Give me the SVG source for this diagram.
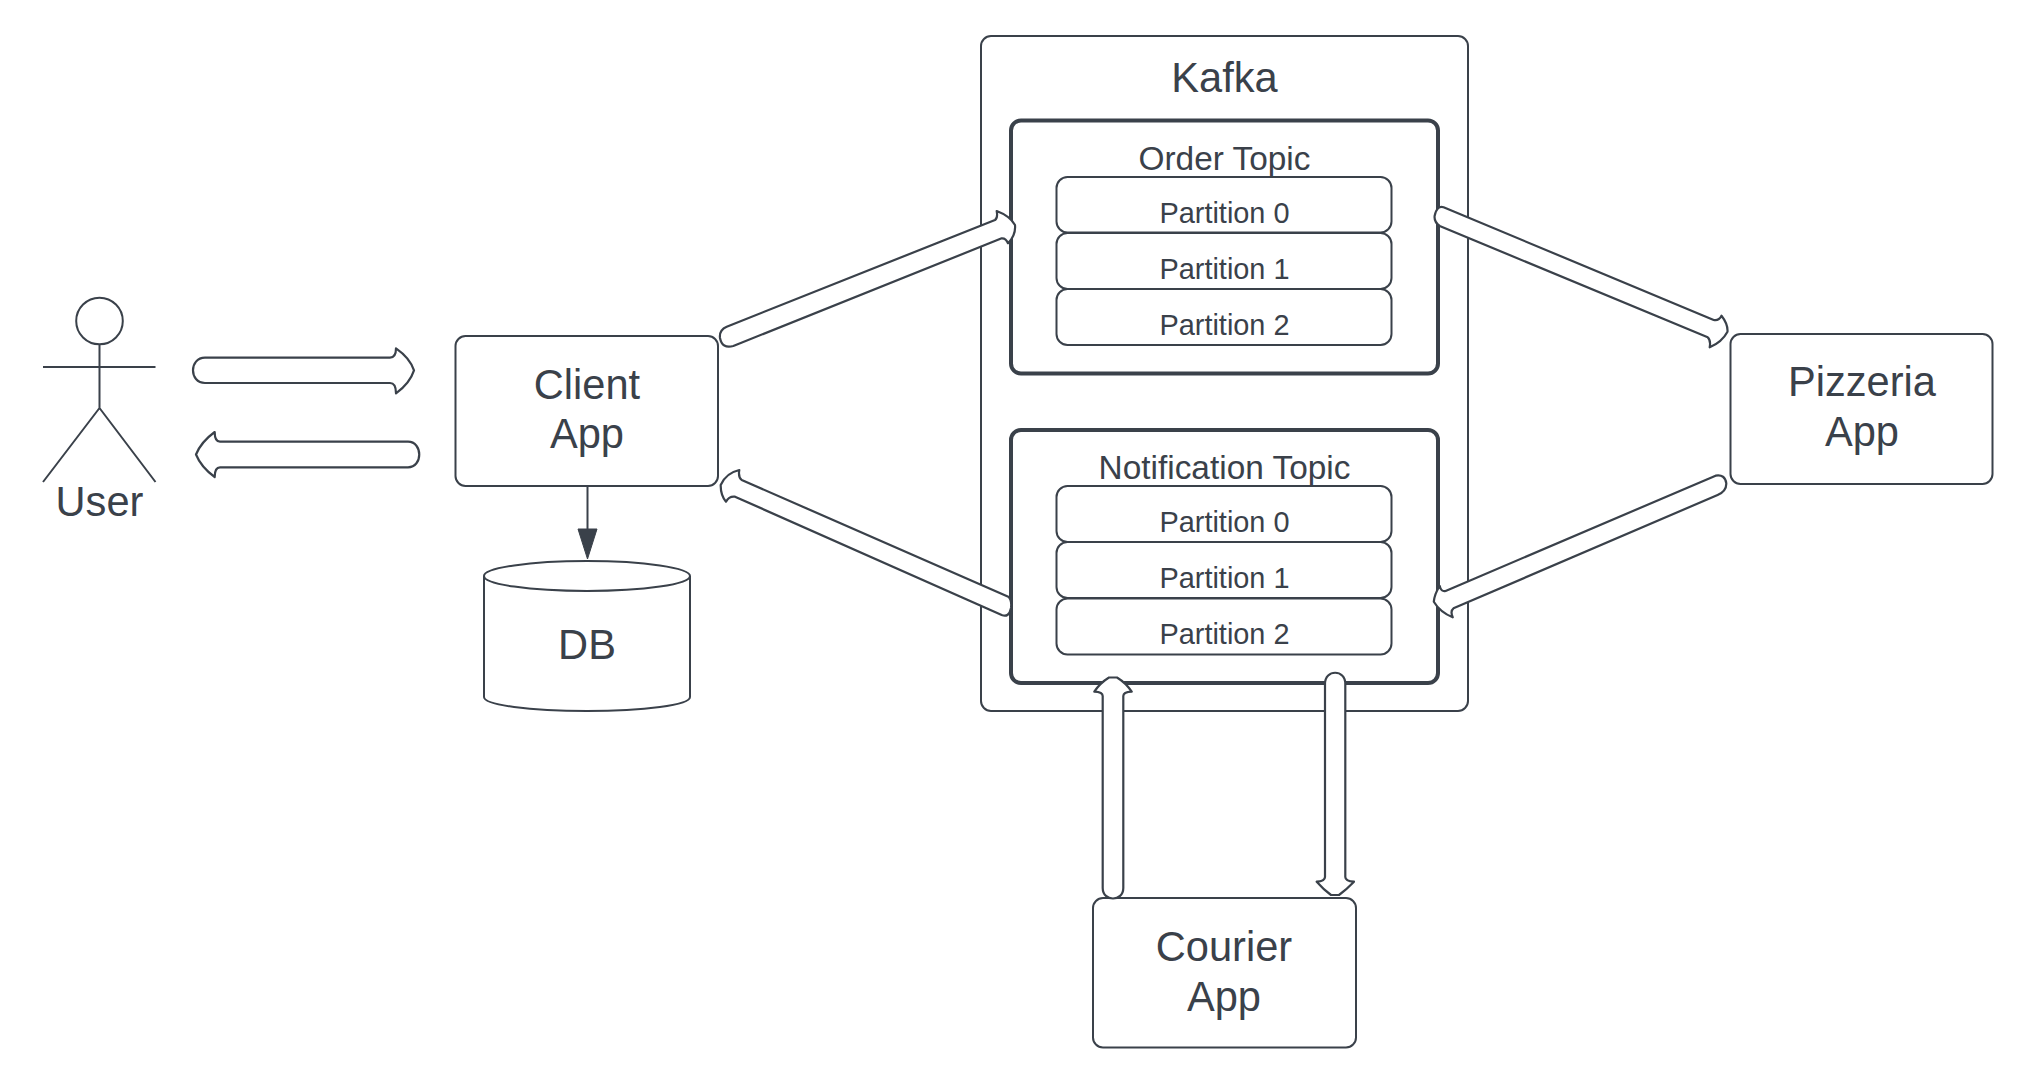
<svg xmlns="http://www.w3.org/2000/svg" width="2038" height="1091" viewBox="0 0 2038 1091">
<style>
text{font-family:"Liberation Sans",Arial,sans-serif;fill:#3a414a;text-anchor:middle}
.l{font-size:41.6px}
.m{font-size:33.4px}
.s{font-size:28.9px}
.box{fill:#fff;stroke:#3a414a;stroke-width:2}
.topic{fill:#fff;stroke:#3a414a;stroke-width:4}
.line{fill:none;stroke:#3a414a;stroke-width:2;stroke-linejoin:round}
.arrow{fill:#fff;stroke:#3a414a;stroke-width:2.2;stroke-linejoin:round}
</style>
<rect width="2038" height="1091" fill="#fff"/>
<g id="user">
<circle class="line" cx="99.5" cy="321" r="23.3"/>
<path class="line" d="M99.5 344V408M43 367H155.5M43 482L99.5 408L155.5 482"/>
<text class="l" x="99.5" y="515.5">User</text>
</g>
<g id="client-app">
<rect class="box" x="455.5" y="336" width="262.5" height="150" rx="10"/>
<text class="l" x="587" y="398.5">Client</text>
<text class="l" x="587" y="448">App</text>
</g>
<g id="db">
<path class="box" d="M484 576V697C484 705 530 711 587 711C644 711 690 705 690 697V576"/>
<ellipse class="box" cx="587" cy="576" rx="103" ry="15"/>
<text class="l" x="587" y="658.5">DB</text>
</g>
<g id="kafka">
<rect class="box" x="981" y="36" width="487" height="675" rx="10"/>
<text class="l" x="1224.5" y="92">Kafka</text>
</g>
<g id="order-topic">
<rect class="topic" x="1011" y="120.5" width="427" height="253" rx="10"/>
<text class="m" x="1224.5" y="169.5">Order Topic</text>
<rect class="box" x="1056.5" y="177" width="335" height="55.5" rx="11"/>
<text class="s" x="1224.5" y="222.5">Partition 0</text>
<rect class="box" x="1056.5" y="233" width="335" height="56" rx="11"/>
<text class="s" x="1224.5" y="278.5">Partition 1</text>
<rect class="box" x="1056.5" y="289" width="335" height="56" rx="11"/>
<text class="s" x="1224.5" y="335">Partition 2</text>
</g>
<g id="notification-topic">
<rect class="topic" x="1011" y="430" width="427" height="253" rx="10"/>
<text class="m" x="1224.5" y="479">Notification Topic</text>
<rect class="box" x="1056.5" y="486" width="335" height="56" rx="11"/>
<text class="s" x="1224.5" y="532">Partition 0</text>
<rect class="box" x="1056.5" y="542" width="335" height="56" rx="11"/>
<text class="s" x="1224.5" y="588">Partition 1</text>
<rect class="box" x="1056.5" y="598.5" width="335" height="56" rx="11"/>
<text class="s" x="1224.5" y="643.5">Partition 2</text>
</g>
<g id="pizzeria-app">
<rect class="box" x="1730.5" y="334" width="262" height="150" rx="10"/>
<text class="l" x="1862" y="396">Pizzeria</text>
<text class="l" x="1862" y="446">App</text>
</g>
<g id="courier-app">
<rect class="box" x="1093" y="898" width="263" height="149.5" rx="10"/>
<text class="l" x="1224" y="960.5">Courier</text>
<text class="l" x="1224" y="1010.5">App</text>
</g>
<g id="connectors">
<path class="arrow" d="M205 357.7H390Q396 357.7 396 348.3Q410 358 414 370.3Q410 383 396 393.3Q396 383 390 383H205C189 383 189 357.7 205 357.7Z"/>
<path class="arrow" d="M408 441.7H220Q214.7 441.7 214.7 432Q201 442 196 454.5Q201 467 214.7 477Q214.7 467.3 220 467.3H408C423 467.3 423 441.7 408 441.7Z"/>
<path d="M587.5 486V530" class="line"/>
<path d="M587.5 559L578 529H597Z" fill="#3a414a" stroke="#3a414a"/>
<path class="arrow" d="M726.7 326.7L995 220Q998 218 996.7 211Q1010 216 1015 225Q1016 235 1008 243.3Q1006 238 1001.7 238.3L733.3 346Q722 349 720 338Q719 330 726.7 326.7Z"/>
<path class="arrow" d="M1008.3 596.7L741.7 480Q738 477 739.3 470Q726 473 720.7 485Q720.5 495 726 501.7Q729 496 735 496.7L1001.7 615Q1009 618 1011 608Q1012 600 1008.3 596.7Z"/>
<path class="arrow" d="M1443.6 207.3L1713.7 320Q1719 321 1721.5 315.7Q1728 324 1727.5 331.7Q1722 342 1709.7 347.3Q1711 340 1707.7 337.3L1439.7 226Q1434 222 1434.6 216Q1437 205 1443.6 207.3Z"/>
<path class="arrow" d="M1715.6 475.7Q1725 474 1726.3 483.3Q1726.5 491 1717.6 495L1453.5 608.3Q1450 611 1452.7 617.3Q1440 612 1433.8 601.7Q1434.5 594 1439.7 586Q1441 592 1445.6 591Z"/>
<path class="arrow" d="M1102.7 888V696Q1102.7 692 1094.3 691.7Q1100 683 1109 677.5H1117Q1126 683 1131.7 691.7Q1123.3 692 1123.3 696V888C1123.3 902 1102.7 902 1102.7 888Z"/>
<path class="arrow" d="M1325 684C1325 669 1345.3 669 1345.3 684V877Q1345.3 881 1354 881.7Q1347 889 1339 895H1331Q1323 889 1316.7 881.7Q1325 881 1325 877Z"/>
</g>
</svg>
